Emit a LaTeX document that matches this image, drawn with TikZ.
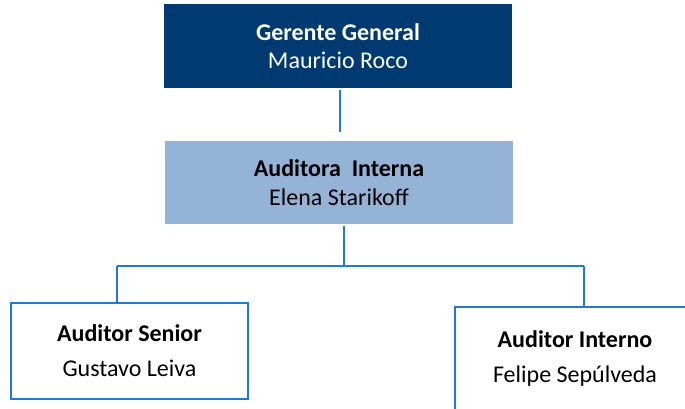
\documentclass[tikz,border=0pt]{standalone}
\usepackage{fontspec}
\setmainfont{Carlito}
\definecolor{darkblue}{HTML}{003A70}
\definecolor{lightblue}{HTML}{95B3D7}
\definecolor{lineblue}{HTML}{1F7BCF}
\begin{document}
\begin{tikzpicture}[x=1pt,y=-1pt,
  topbox/.style={fill=darkblue,text=white,minimum width=348pt,minimum height=84pt,inner sep=0pt,align=center,font=\fontsize{24}{28}\selectfont},
  midbox/.style={fill=lightblue,text=black,minimum width=348pt,minimum height=83pt,inner sep=0pt,align=center,font=\fontsize{24}{29}\selectfont},
  lowbox/.style={draw=lineblue,line width=2pt,fill=white,text=black,inner sep=0pt,align=center,font=\fontsize{24}{35}\selectfont},
  conn/.style={draw=lineblue,line width=2pt}]
\useasboundingbox (0,0) rectangle (685,408);
\clip (0,0) rectangle (685,408);
\node[topbox] (gg) at (338,46) {\textbf{Gerente General}\\Mauricio Roco};
\node[midbox] (ai) at (339,182.5) {\textbf{Auditora\ \ Interna}\\Elena Starikoff};
\node[lowbox,minimum width=237pt,minimum height=96pt] (as) at (129.5,351) {\textbf{Auditor Senior}\\Gustavo Leiva};
\node[lowbox,minimum width=240pt,minimum height=104pt] (aint) at (575,359) {\textbf{Auditor Interno}\\Felipe Sepúlveda};
\coordinate (bus) at (344,266);
\coordinate (busl) at (117,266);
\coordinate (busr) at (584,266);
\draw[conn] ([xshift=2pt,yshift=-2pt]gg.south) -- ([xshift=1pt,yshift=9pt]ai.north);
\draw[conn] ([xshift=5pt,yshift=-2pt]ai.south) -- (bus);
\draw[conn] (busl) -- (busr);
\draw[conn] (busl) -- (busl |- as.north);
\draw[conn] (busr) -- (busr |- aint.north);
\end{tikzpicture}
\end{document}
